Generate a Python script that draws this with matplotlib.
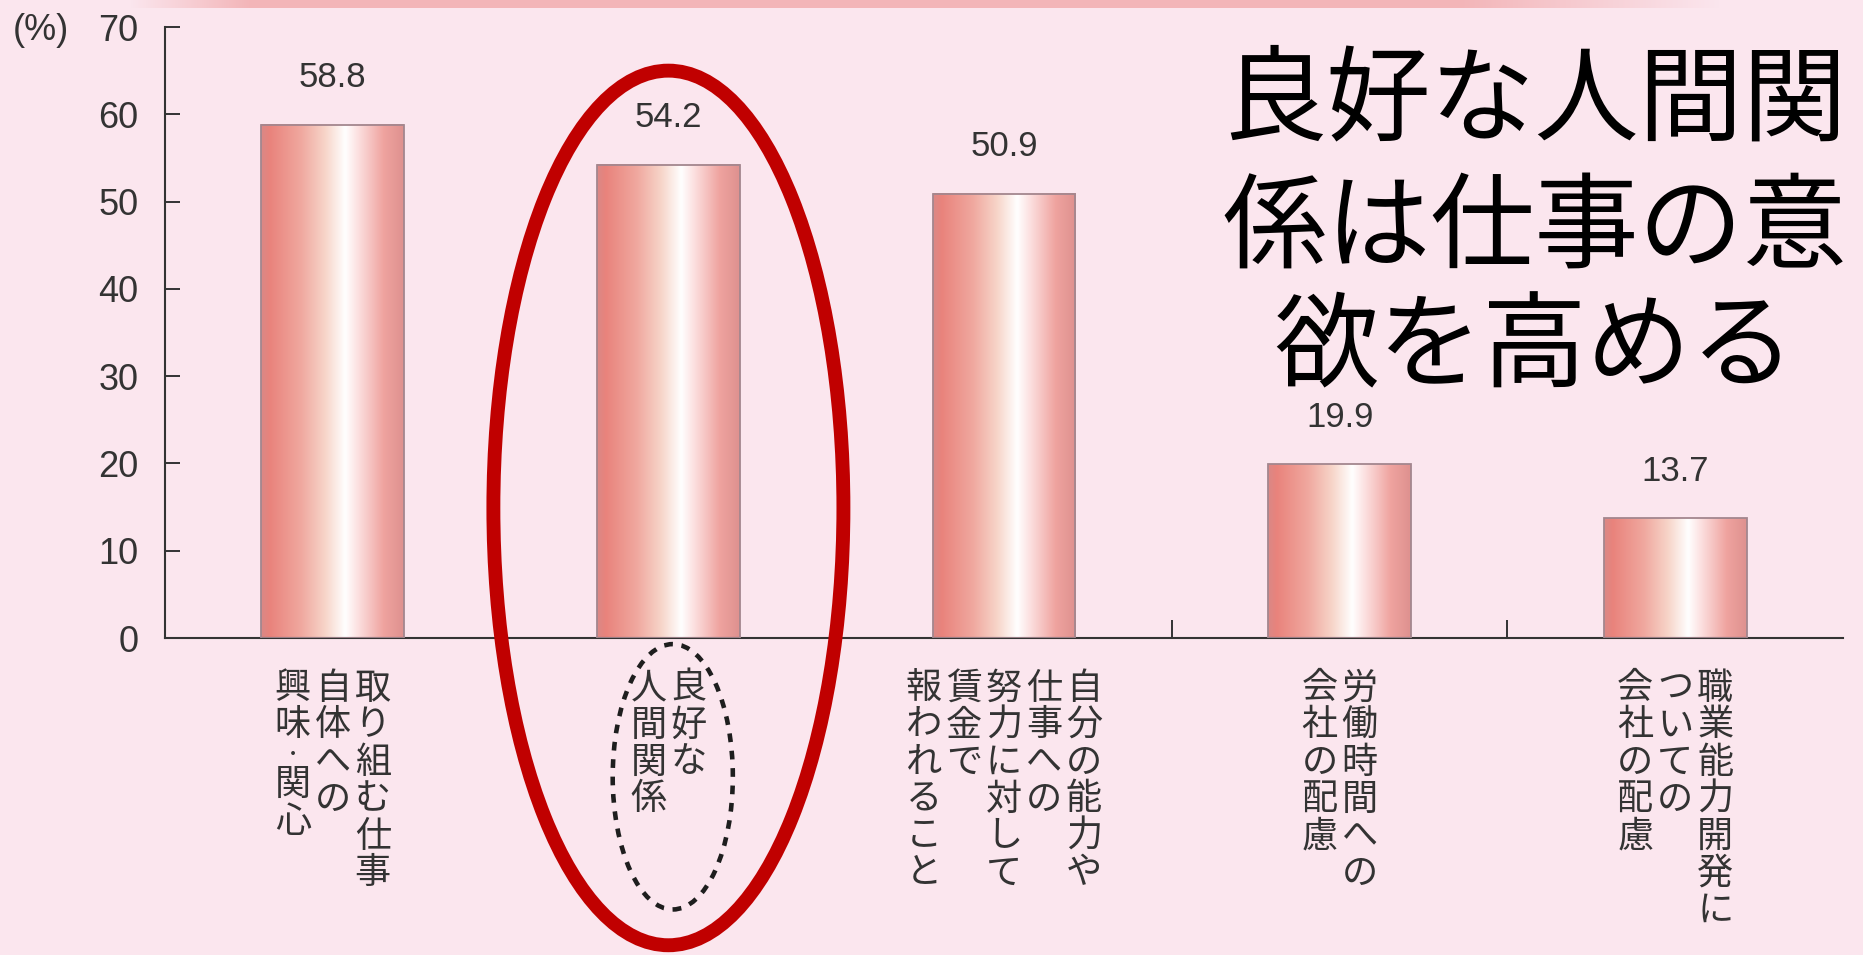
import numpy as np
import matplotlib
matplotlib.use("Agg")
import matplotlib.pyplot as plt
from matplotlib.patches import Ellipse
from matplotlib.colors import LinearSegmentedColormap

# Survey results: factors that raise motivation at work (%)
categories = [
    ["取り組む仕事", "自体への", "興味・関心"],
    ["良好な", "人間関係"],
    ["自分の能力や", "仕事への", "努力に対して", "賃金で", "報われること"],
    ["労働時間への", "会社の配慮"],
    ["職業能力開発に", "ついての", "会社の配慮"],
]
values = [58.8, 54.2, 50.9, 19.9, 13.7]
value_labels = ["58.8", "54.2", "50.9", "19.9", "13.7"]
yticks = [0, 10, 20, 30, 40, 50, 60, 70]
unit_label = "(%)"
headline = ["良好な人間関", "係は仕事の意", "欲を高める"]

BG = "#FBE6EE"
INK = "#333333"
JP = "Noto Sans CJK JP"
plt.rcParams["font.family"] = ["Liberation Sans", JP]

W, H = 1863, 955
fig = plt.figure(figsize=(W / 100, H / 100), dpi=100, facecolor=BG)

# thin salmon band along the top edge
band = fig.add_axes([0, 1 - 8 / H, 1, 8 / H])
band.set_axis_off()
px = np.arange(W)
alpha = np.clip((px - 130) / 120, 0, 1) * np.clip((1720 - px) / 260, 0, 1)
rgba = np.zeros((1, W, 4))
rgba[..., 0] = 243 / 255
rgba[..., 1] = 181 / 255
rgba[..., 2] = 184 / 255
rgba[..., 3] = alpha
band.imshow(rgba, aspect="auto", extent=(0, 1, 0, 1))

ax = fig.add_axes([165 / W, 317 / H, 1678 / W, 611 / H])
ax.set_facecolor("none")

x = np.arange(len(values))
bars = ax.bar(x, values, width=0.426, color="none", edgecolor="#A3868E",
              linewidth=1.3, zorder=3)

# metallic salmon gradient across each bar
stops = [
    (0.00, "#DA8886"),
    (0.06, "#E9837C"),
    (0.28, "#F0A89F"),
    (0.45, "#F7D5C9"),
    (0.59, "#FFFFFF"),
    (0.68, "#FCE0E0"),
    (0.86, "#EFA39F"),
    (1.00, "#DE918F"),
]
cmap = LinearSegmentedColormap.from_list("bar_sheen", stops)
grad = np.linspace(0, 1, 256)[None, :]
for r in bars.patches:
    x0, w, h = r.get_x(), r.get_width(), r.get_height()
    ax.imshow(grad, cmap=cmap, aspect="auto", interpolation="bicubic",
              extent=(x0, x0 + w, 0, h), zorder=2)

ax.set_xlim(-0.5, len(values) - 0.5)
ax.set_ylim(0, 70)

for s in ("top", "right"):
    ax.spines[s].set_visible(False)
for s in ("left", "bottom"):
    ax.spines[s].set_color(INK)
    ax.spines[s].set_linewidth(1.5)

ax.set_yticks(yticks)
ax.tick_params(axis="y", direction="in", length=11, width=1.4, color=INK,
               labelcolor=INK, labelsize=26, pad=19)
ax.set_xticks(x[:-1] + 0.5)
ax.set_xticklabels([])
ax.tick_params(axis="x", direction="in", length=13, width=1.4, color=INK)

# value labels above bars
for xi, v, lbl in zip(x, values, value_labels):
    ax.annotate(lbl, (xi, v), xytext=(0, 34), textcoords="offset points",
                ha="center", va="center", fontsize=25, color=INK)

# vertical (tategaki) category labels, columns read right to left
PT = 0.72  # points per pixel at 100 dpi
col_pitch = 40
char_pitch = 37
top_edge = 32
narrow = "・"
for xi, cols in zip(x, categories):
    n = len(cols)
    for j, col in enumerate(cols):
        dx = ((n - 1) / 2 - j) * col_pitch
        cursor = top_edge
        for ch in col:
            small = ch in narrow
            adv = char_pitch * (0.62 if small else 1.0)
            cy = cursor + adv / 2
            cursor += adv
            ax.annotate(ch, (xi, 0), xytext=(dx * PT, -cy * PT),
                        textcoords="offset points", ha="center", va="center",
                        fontsize=13 if small else 26, family=JP, color=INK,
                        annotation_clip=False)

# highlight on the "good relationships" category
ax.add_patch(Ellipse((1.0, 14.9), 1.043, 100.2, fill=False,
                     edgecolor="#C00000", linewidth=10, clip_on=False,
                     zorder=10))
ax.add_patch(Ellipse((1.013, -15.9), 0.358, 30.4, fill=False,
                     edgecolor="#1E1E1E", linewidth=3.3,
                     linestyle=(0, (1.9, 1.9)), clip_on=False, zorder=10))

fig.text(13 / W, 1 - 31 / H, unit_label, ha="left", va="center",
         fontsize=26, color=INK)

for line, yc in zip(headline, [103, 230, 350]):
    fig.text(1535 / W, 1 - yc / H, line, ha="center", va="center",
             fontsize=75, family=JP, color="black")

fig.savefig("out.png", dpi=100, facecolor=BG)
